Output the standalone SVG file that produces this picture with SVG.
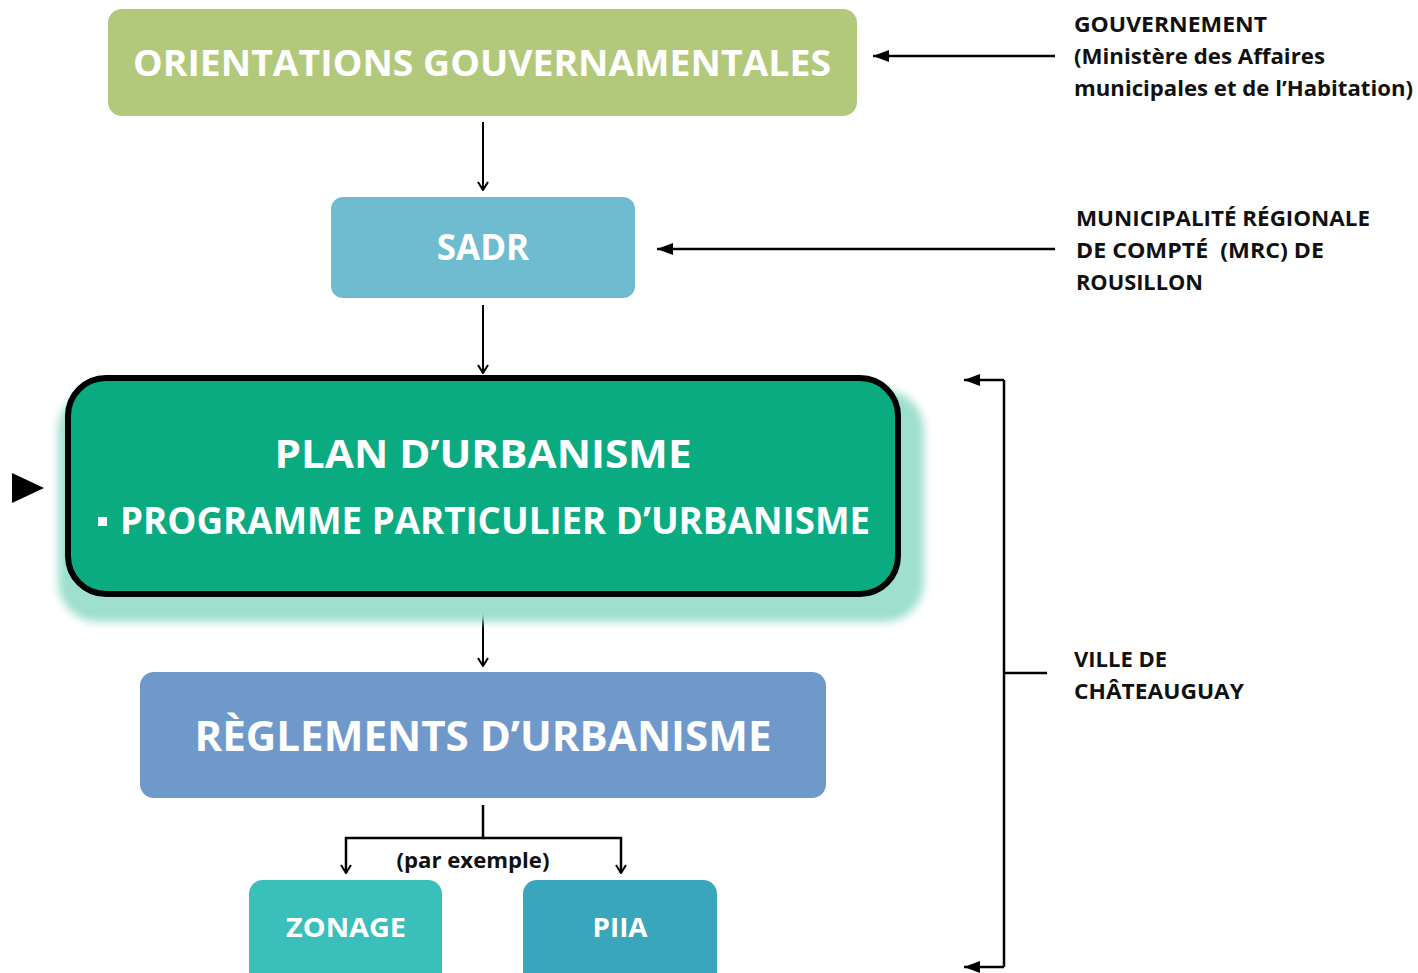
<svg xmlns="http://www.w3.org/2000/svg" width="1418" height="973" viewBox="0 0 1418 973">
  <style>
    .box-text { font-family: "Open Sans", "Liberation Sans", sans-serif; font-weight: 700; fill: #ffffff; text-anchor: middle; }
    .label { font-family: "Open Sans", "Liberation Sans", sans-serif; font-weight: 700; fill: #111111; font-size: 21px; white-space: pre; }
    .line { stroke: #000000; stroke-width: 2.5; fill: none; }
    .thin { stroke: #000000; stroke-width: 2; fill: none; }
  </style>
  <defs>
    <marker id="open-arrow" viewBox="0 0 12 12" refX="11" refY="6" markerWidth="12" markerHeight="12" markerUnits="userSpaceOnUse" orient="auto">
      <path d="M3,1 L11,6 L3,11" fill="none" stroke="#000" stroke-width="2"/>
    </marker>
    <marker id="solid-arrow" viewBox="0 0 16 12" refX="16" refY="6" markerWidth="16" markerHeight="12" markerUnits="userSpaceOnUse" orient="auto">
      <path d="M0,0 L16,6 L0,12 Z" fill="#000"/>
    </marker>
    <filter id="glow" x="-10%" y="-10%" width="120%" height="130%">
      <feGaussianBlur stdDeviation="4"/>
    </filter>
  </defs>

  <rect width="1418" height="973" fill="#ffffff"/>

  <!-- connectors -->
  <g id="connectors">
    <line class="thin" x1="483" y1="122" x2="483" y2="190" marker-end="url(#open-arrow)"/>
    <line class="thin" x1="483" y1="305" x2="483" y2="373" marker-end="url(#open-arrow)"/>
    <line class="thin" x1="483" y1="598" x2="483" y2="666" marker-end="url(#open-arrow)"/>
    <path class="line" d="M483,805 V838 H346 V873" marker-end="url(#open-arrow)"/>
    <path class="line" d="M483,838 H621 V873" marker-end="url(#open-arrow)"/>
    <line class="line" x1="1055" y1="56" x2="873" y2="56" marker-end="url(#solid-arrow)"/>
    <line class="line" x1="1055" y1="249" x2="657" y2="249" marker-end="url(#solid-arrow)"/>
    <!-- bracket for the city level -->
    <path class="line" d="M1004,380 V967"/>
    <line class="line" x1="1004" y1="380" x2="964" y2="380" marker-end="url(#solid-arrow)"/>
    <line class="line" x1="1004" y1="967" x2="964" y2="967" marker-end="url(#solid-arrow)"/>
    <line class="line" x1="1004" y1="673" x2="1047" y2="673"/>
    <path d="M12,473 L44,488 L12,503 Z" fill="#000"/>
  </g>

  <g id="orientations">
    <rect x="108" y="9" width="749" height="107" rx="14" fill="#b2c97c"/>
    <text class="box-text" x="482" y="76" font-size="36" textLength="698" lengthAdjust="spacingAndGlyphs">ORIENTATIONS GOUVERNAMENTALES</text>
  </g>

  <g id="sadr">
    <rect x="331" y="197" width="304" height="101" rx="12" fill="#6fbbd0"/>
    <text class="box-text" x="483" y="260" font-size="35">SADR</text>
  </g>

  <g id="plan-urbanisme">
    <rect x="58" y="390" width="866" height="232" rx="40" fill="#9edfce" filter="url(#glow)"/>
    <rect x="68" y="378" width="830" height="216" rx="38" fill="#0bab82" stroke="#000" stroke-width="6"/>
    <text class="box-text" x="483" y="468" font-size="40" textLength="417" lengthAdjust="spacingAndGlyphs">PLAN D’URBANISME</text>
    <rect x="98" y="517" width="9" height="9" fill="#ffffff"/>
    <text class="box-text" x="495" y="534" font-size="37" textLength="750" lengthAdjust="spacingAndGlyphs">PROGRAMME PARTICULIER D’URBANISME</text>
  </g>

  <g id="reglements">
    <rect x="140" y="672" width="686" height="126" rx="14" fill="#7099cb"/>
    <text class="box-text" x="483" y="751" font-size="41" textLength="577" lengthAdjust="spacingAndGlyphs">RÈGLEMENTS D’URBANISME</text>
  </g>

  <text class="label" x="473" y="868" text-anchor="middle" textLength="153" lengthAdjust="spacingAndGlyphs">(par exemple)</text>

  <g id="zonage">
    <rect x="249" y="880" width="193" height="110" rx="14" fill="#3bbfba"/>
    <text class="box-text" x="346" y="937" font-size="27" textLength="120" lengthAdjust="spacingAndGlyphs">ZONAGE</text>
  </g>

  <g id="piia">
    <rect x="523" y="880" width="194" height="110" rx="14" fill="#3aa6bb"/>
    <text class="box-text" x="620" y="937" font-size="27" textLength="55" lengthAdjust="spacingAndGlyphs">PIIA</text>
  </g>

  <g id="gouvernement">
    <text class="label" x="1074" y="32" textLength="193" lengthAdjust="spacingAndGlyphs">GOUVERNEMENT</text>
    <text class="label" x="1074" y="64" textLength="251" lengthAdjust="spacingAndGlyphs">(Ministère des Affaires</text>
    <text class="label" x="1074" y="96" textLength="339" lengthAdjust="spacingAndGlyphs">municipales et de l’Habitation)</text>
  </g>

  <g id="mrc">
    <text class="label" x="1076" y="226" textLength="294" lengthAdjust="spacingAndGlyphs">MUNICIPALITÉ RÉGIONALE</text>
    <text class="label" x="1076" y="258" textLength="248" lengthAdjust="spacingAndGlyphs" xml:space="preserve">DE COMPTÉ  (MRC) DE</text>
    <text class="label" x="1076" y="290" textLength="127" lengthAdjust="spacingAndGlyphs">ROUSILLON</text>
  </g>

  <g id="ville">
    <text class="label" x="1074" y="667" textLength="93" lengthAdjust="spacingAndGlyphs">VILLE DE</text>
    <text class="label" x="1074" y="699" textLength="170" lengthAdjust="spacingAndGlyphs">CHÂTEAUGUAY</text>
  </g>
</svg>
